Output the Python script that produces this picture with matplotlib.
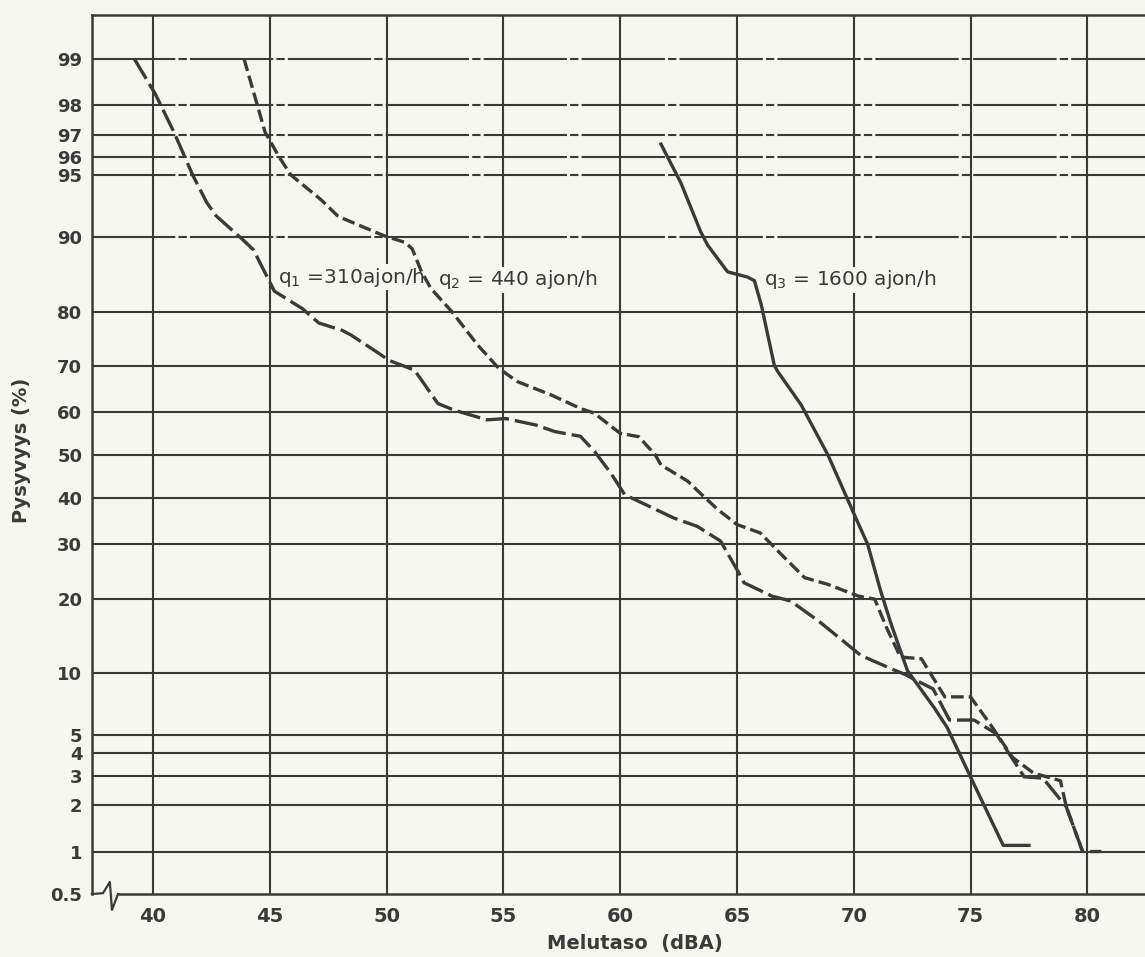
import matplotlib
matplotlib.use('Agg')
import matplotlib.pyplot as plt
import numpy as np
from statistics import NormalDist

# noise level (dBA) vs. cumulative share (%)
q1_db = [39.2, 40.1, 40.9, 41.7, 42.3, 42.7, 43.8, 44.3, 45.2, 46.4, 47.1, 48.1, 48.5,
         49.7, 50.1, 51.2, 52.2, 52.9, 54.3, 55.1, 56.4, 57.2, 58.3, 58.9, 59.6, 60.2,
         60.8, 62.3, 63.3, 64.3, 65.2, 65.3, 66.5, 67.3, 68.5, 69.7, 70.3, 71.6, 72.2,
         72.6, 73.4, 74.1, 75.15, 76.1, 77.3, 78.1, 79.1, 79.8, 80.6]
q1_pct = [99, 98.3, 97.1, 95.0, 93.1, 92.0, 89.8, 88.6, 83.2, 80.5, 78.1, 76.8, 75.9,
          72.4, 71.1, 69.1, 61.9, 60.4, 58.2, 58.5, 57.0, 55.5, 54.4, 50.9, 45.8, 40.8,
          39.3, 35.6, 33.8, 30.7, 23.6, 22.7, 20.4, 19.6, 16.5, 13.4, 12.0, 10.5, 9.9,
          9.4, 8.5, 6.0, 6.0, 5.1, 2.95, 2.9, 1.95, 1.0, 1.0]

q2_db = [43.9, 44.8, 45.4, 45.9, 47.2, 47.9, 48.2, 49.9, 50.8, 51.1, 51.5, 51.9, 52.8,
         53.9, 54.8, 55.6, 56.5, 57.05, 58.3, 58.9, 60.0, 60.8, 61.5, 61.75, 62.9, 63.5,
         64.2, 65.0, 66.0, 66.9, 67.9, 68.9, 70.2, 70.9, 71.4, 72.0, 72.9, 73.9, 75.0,
         75.85, 76.8, 77.7, 78.85, 79.1, 79.8]
q2_pct = [99, 97.1, 96.0, 95.0, 93.3, 92.0, 91.7, 90.1, 89.4, 88.7, 85.9, 83.6, 80.0,
          74.1, 69.5, 66.7, 64.9, 63.8, 60.8, 59.7, 55.1, 54.3, 50.1, 47.7, 43.9, 40.8,
          37.4, 34.2, 32.4, 28.0, 23.6, 22.4, 20.4, 19.9, 15.6, 11.8, 11.6, 7.8, 7.8,
          5.7, 3.8, 3.1, 2.8, 1.95, 1.0]

q3_db = [61.75, 62.6, 63.45, 63.75, 64.6, 65.45, 65.75, 66.05, 66.6, 66.75, 67.75, 68.9,
         70.1, 70.6, 71.15, 71.6, 72.3, 73.45, 74.0, 75.0, 76.4, 77.5]
q3_pct = [96.6, 94.5, 90.5, 89.1, 85.9, 85.2, 84.7, 81.0, 70.1, 68.8, 61.6, 50.0,
          35.5, 30.0, 21.3, 16.1, 10.3, 6.9, 5.5, 2.95, 1.1, 1.1]

labels = ['q$_1$ =310ajon/h', 'q$_2$ = 440 ajon/h', 'q$_3$ = 1600 ajon/h']

x_ticks = [40, 45, 50, 55, 60, 65, 70, 75, 80]
y_ticks = [0.5, 1, 2, 3, 4, 5, 10, 20, 30, 40, 50, 60, 70, 80, 90, 95, 96, 97, 98, 99]
y_labels = ['0.5', '1', '2', '3', '4', '5', '10', '20', '30', '40', '50', '60', '70',
            '80', '90', '95', '96', '97', '98', '99']

_nd = NormalDist()
_ppf = np.vectorize(lambda p: _nd.inv_cdf(min(max(p / 100.0, 1e-9), 1 - 1e-9)), otypes=[float])
_cdf = np.vectorize(lambda z: _nd.cdf(z) * 100.0, otypes=[float])


def probit(p):
    return _ppf(np.asarray(p, dtype=float))


def probit_inv(z):
    return _cdf(np.asarray(z, dtype=float))


plt.rcParams['font.family'] = ['DejaVu Sans']
plt.rcParams['mathtext.default'] = 'regular'

ink = '#3a3a3a'
paper = '#f7f7f1'

fig = plt.figure(figsize=(11.45, 9.57), dpi=100, facecolor=paper)
ax = fig.add_axes([0.0803, 0.0658, 0.9197, 0.9185], facecolor=paper)
ax.set_yscale('function', functions=(probit, probit_inv))
ax.set_xlim(37.39, 82.47)
ax.set_ylim(0.5, 99.51)

# paper grid (upper lines are slightly broken in the print)
for v in y_ticks[1:]:
    if v >= 90:
        ax.axhline(v, color=ink, lw=1.5, dashes=(40, 1.5, 4, 1.5), zorder=1)
    else:
        ax.axhline(v, color=ink, lw=1.5, zorder=1)
for v in x_ticks:
    ax.axvline(v, color=ink, lw=1.5, zorder=1)

ax.set_xticks(x_ticks)
ax.set_xticklabels([str(v) for v in x_ticks], fontsize=14, fontweight='bold', color=ink)
ax.set_yticks(y_ticks)
ax.set_yticklabels(y_labels, fontsize=13, fontweight='bold', color=ink)
ax.tick_params(axis='both', length=0)
ax.tick_params(axis='x', pad=9)
ax.tick_params(axis='y', pad=7)
ax.minorticks_off()

for s in ['left', 'top', 'bottom']:
    ax.spines[s].set_color(ink)
    ax.spines[s].set_linewidth(1.8)
ax.spines['right'].set_visible(False)
ax.spines['bottom'].set_bounds(38.55, 82.47)
# axis break mark at the lower left corner
ax.plot([0, 0.0105, 0.017, 0.019, 0.0237, 0.0247], [0, 0.001, 0.0137, -0.018, -0.0034, 0],
        transform=ax.transAxes, color=ink, lw=1.6, clip_on=False, zorder=5)

ax.plot(q1_db, q1_pct, color=ink, lw=2.4, dashes=(7, 1.8), zorder=3)
ax.plot(q2_db, q2_pct, color=ink, lw=2.4, dashes=(3.8, 1.5), zorder=3)
ax.plot(q3_db, q3_pct, color=ink, lw=2.4, zorder=3)

box = dict(facecolor=paper, edgecolor='none', pad=1)
ax.text(45.35, 85.2, labels[0], fontsize=14.5, color=ink, va='center', ha='left', bbox=box, zorder=2.5)
ax.text(52.2, 84.8, labels[1], fontsize=14.5, color=ink, va='center', ha='left', bbox=box, zorder=2.5)
ax.text(66.15, 84.8, labels[2], fontsize=14.5, color=ink, va='center', ha='left', bbox=box, zorder=2.5)

fig.text(635 / 1145, 1 - 943 / 957, 'Melutaso  (dBA)', fontsize=14, fontweight='bold',
         color=ink, ha='center', va='center')
fig.text(22 / 1145, 1 - 450 / 957, 'Pysyvyys (%)', fontsize=14, fontweight='bold',
         color=ink, ha='center', va='center', rotation=90)

fig.savefig('out.png', dpi=100, facecolor=paper)
